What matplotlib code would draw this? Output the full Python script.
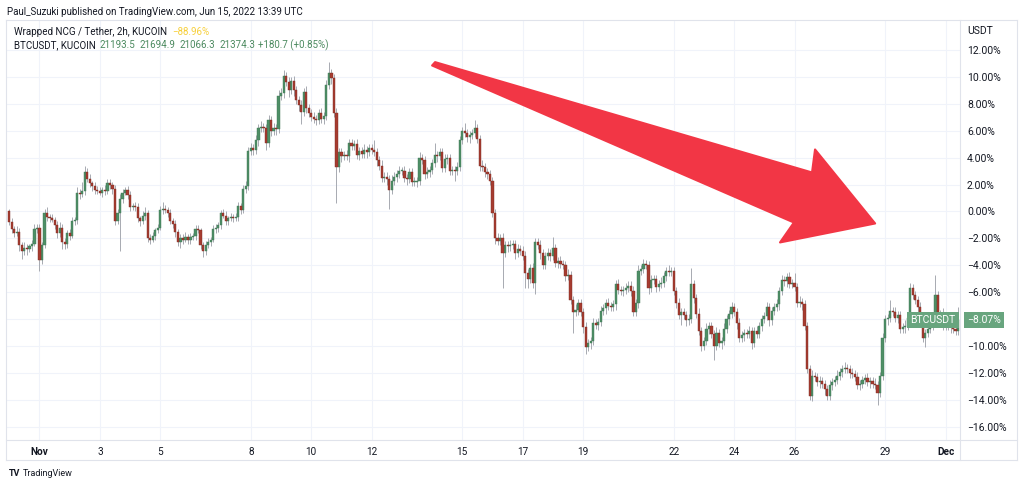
import numpy as np
import pandas as pd
import matplotlib
matplotlib.use("Agg")
import matplotlib.pyplot as plt
import matplotlib.dates as mdates
import matplotlib.transforms as mtransforms
from matplotlib.patches import Polygon
from matplotlib.lines import Line2D

plt.rcParams['font.family'] = ['Roboto', 'DejaVu Sans']

# BTCUSDT 2h candles, % change from the first bar
times = pd.date_range("2021-10-31 00:00", periods=378, freq="2h")
first_open = 0.0
close = [
    -0.8, -1.3, -1.6, -1.5, -2.5, -2.9, -2.7, -2.8, -2.6, -2.4, -1.3, -1.2,
    -3.6, -2.5, -0.1, -0.4, -0.5, -0.6, -1.0, -1.6, -1.2, -2.3, -2.4, -1.6,
    -1.8, -0.7, -0.6, 1.4, 1.3, 1.5, 2.9, 2.4, 2.1, 1.9, 1.6, 1.5,
    1.4, 1.6, 1.5, 2.1, 2.0, 1.7, -0.7, -0.1, 0.9, 1.4, 1.6, 1.2,
    0.3, 0.4, 0.3, -0.5, -0.7, -0.3, -0.1, -2.0, -2.1, -1.8, -1.4, -1.2,
    0.1, 0.2, 0.1, -0.1, -0.7, -0.9, -1.5, -2.3, -2.0, -2.1, -1.9, -2.1,
    -1.9, -1.8, -1.3, -1.4, -2.5, -2.9, -2.5, -2.3, -2.1, -1.3, -1.2, -1.0,
    -0.1, -0.3, -0.7, -0.5, -0.4, -0.5, -0.4, 0.4, 0.1, 1.7, 1.9, 4.5,
    4.7, 4.6, 5.3, 6.2, 6.3, 6.2, 5.1, 6.8, 6.0, 6.2, 6.1, 8.6,
    8.8, 10.1, 9.6, 9.0, 9.7, 9.0, 8.3, 7.9, 7.4, 8.9, 7.7, 7.3,
    7.0, 6.9, 6.8, 7.3, 6.9, 7.1, 9.4, 10.3, 9.9, 7.3, 3.3, 4.4,
    4.1, 4.2, 4.1, 5.1, 4.9, 5.0, 4.2, 4.5, 4.3, 4.6, 4.4, 4.7,
    4.6, 4.4, 3.8, 3.4, 2.5, 2.6, 2.4, 1.6, 2.3, 2.6, 2.8, 3.0,
    3.0, 2.5, 2.4, 2.9, 2.2, 2.2, 2.3, 4.0, 3.8, 2.8, 2.9, 3.1,
    3.6, 4.2, 4.1, 4.4, 3.2, 3.9, 4.0, 3.0, 3.1, 3.0, 3.3, 5.3,
    6.0, 5.8, 5.5, 5.7, 5.8, 6.2, 5.4, 3.4, 3.3, 2.9, 2.8, 2.3,
    -0.1, -2.0, -2.2, -2.0, -3.1, -2.5, -2.6, -2.5, -2.4, -3.1, -2.8, -2.9,
    -3.3, -4.6, -5.0, -4.2, -5.3, -2.3, -2.5, -3.1, -4.0, -3.3, -3.1, -3.3,
    -2.7, -3.8, -3.7, -3.9, -4.0, -4.8, -4.7, -6.6, -7.5, -7.3, -6.8, -7.5,
    -8.6, -10.1, -9.8, -9.6, -8.3, -8.4, -8.2, -7.4, -7.2, -6.8, -7.0, -7.1,
    -6.9, -5.4, -5.8, -5.9, -5.8, -5.7, -5.5, -5.9, -7.5, -6.8, -4.4, -4.3,
    -3.9, -4.0, -5.7, -5.1, -5.0, -5.6, -5.4, -5.3, -4.8, -4.4, -4.5, -4.4,
    -5.9, -6.8, -7.7, -7.5, -7.7, -8.1, -8.0, -5.4, -6.4, -7.6, -8.9, -10.0,
    -9.6, -8.7, -8.5, -9.1, -10.0, -9.0, -9.8, -9.6, -8.7, -8.0, -7.6, -7.1,
    -7.5, -8.3, -9.4, -9.2, -9.0, -9.1, -8.9, -9.8, -8.9, -9.1, -8.5, -8.0,
    -7.8, -7.1, -8.1, -7.4, -7.1, -6.9, -5.9, -5.1, -5.2, -4.9, -5.4, -5.3,
    -5.6, -6.8, -6.7, -6.9, -8.5, -11.7, -13.7, -12.2, -12.3, -12.7, -12.6, -12.8,
    -13.2, -13.7, -12.9, -12.7, -12.5, -12.2, -11.9, -11.7, -11.6, -11.7, -12.0, -12.1,
    -12.3, -12.9, -12.8, -12.5, -12.4, -12.7, -12.6, -12.8, -12.9, -13.5, -12.2, -9.4,
    -8.0, -7.9, -7.4, -7.5, -7.9, -7.7, -8.7, -8.6, -8.5, -7.9, -5.7, -6.2,
    -6.6, -7.1, -7.8, -9.4, -9.0, -8.7, -8.4, -8.2, -6.2, -7.6, -7.6, -8.5,
    -8.2, -8.5, -8.6, -8.7, -8.85, -8.07,
]
# wick lengths above / below the body, in %
wick_up = [
    0.2, 0.3, 0.2, 0.4, 0.3, 0.2, 0.4, 0.3, 0.2, 0.3, 0.4, 0.3,
    0.3, 0.2, 0.3, 0.4, 0.2, 0.3, 0.2, 0.3, 0.4, 0.3, 0.3, 0.2,
    0.3, 0.3, 0.2, 0.4, 0.3, 0.7, 0.5, 0.3, 0.4, 0.2, 0.3, 0.3,
    0.3, 0.2, 0.4, 0.3, 0.3, 0.2, 0.3, 0.3, 0.4, 0.3, 0.2, 0.3,
    0.3, 0.2, 0.3, 0.3, 0.2, 0.3, 0.4, 0.2, 0.3, 0.3, 0.2, 0.3,
    0.3, 0.5, 0.3, 0.2, 0.3, 0.2, 0.3, 0.2, 0.3, 0.3, 0.4, 0.2,
    0.3, 0.2, 0.3, 0.3, 0.2, 0.2, 0.3, 0.3, 0.2, 0.3, 0.3, 0.2,
    0.2, 0.3, 0.3, 0.2, 0.3, 0.2, 0.3, 0.3, 0.2, 0.3, 0.4, 0.3,
    0.4, 0.3, 0.4, 0.3, 0.4, 0.3, 0.3, 0.4, 0.3, 0.4, 0.3, 0.4,
    0.4, 0.4, 0.3, 0.4, 0.3, 0.4, 0.3, 0.3, 0.4, 0.3, 0.4, 0.3,
    0.3, 0.4, 0.3, 0.3, 0.4, 0.3, 0.4, 0.8, 0.3, 0.3, 0.4, 0.3,
    0.3, 0.3, 0.4, 0.3, 0.3, 0.3, 0.4, 0.3, 0.3, 0.4, 0.3, 0.3,
    0.3, 0.7, 0.3, 0.3, 0.4, 0.3, 0.3, 0.3, 0.4, 0.3, 0.3, 0.4,
    0.3, 0.4, 0.3, 0.3, 0.3, 0.4, 0.3, 0.4, 0.3, 0.3, 0.4, 0.3,
    0.3, 0.9, 0.3, 0.3, 0.3, 0.4, 0.3, 0.3, 0.3, 0.3, 0.4, 0.3,
    0.3, 0.6, 0.3, 0.3, 0.3, 0.6, 0.3, 0.3, 0.4, 0.3, 0.3, 0.3,
    0.3, 0.3, 0.4, 0.3, 0.4, 0.3, 0.3, 0.4, 0.3, 0.3, 0.4, 0.3,
    0.3, 0.4, 0.3, 0.3, 0.4, 0.3, 0.3, 0.4, 0.3, 0.3, 0.4, 0.3,
    0.8, 0.3, 0.3, 0.4, 0.3, 0.3, 0.4, 0.3, 0.3, 0.4, 0.3, 0.3,
    0.3, 0.4, 0.3, 0.3, 0.4, 0.3, 0.3, 0.4, 0.3, 0.3, 0.4, 0.3,
    0.3, 0.3, 0.4, 0.3, 0.3, 0.4, 0.3, 0.3, 0.4, 0.3, 0.4, 0.3,
    0.4, 0.3, 0.3, 0.4, 0.3, 0.3, 0.3, 0.4, 0.3, 0.3, 0.4, 0.3,
    0.3, 0.3, 0.4, 0.3, 0.3, 0.3, 0.4, 1.2, 0.3, 0.3, 0.4, 0.3,
    0.3, 0.4, 0.3, 0.3, 0.3, 0.4, 0.3, 0.3, 0.4, 0.3, 0.3, 0.4,
    0.3, 0.3, 0.4, 0.3, 0.3, 0.3, 0.4, 0.3, 0.3, 0.4, 0.3, 0.3,
    0.3, 0.4, 0.3, 0.3, 0.3, 0.4, 0.3, 0.4, 0.3, 0.3, 0.4, 0.3,
    0.7, 0.3, 0.4, 0.3, 0.3, 0.3, 0.3, 0.4, 0.3, 0.3, 0.4, 0.3,
    0.3, 0.3, 0.4, 0.3, 0.3, 0.4, 0.3, 0.3, 0.4, 0.3, 0.3, 0.4,
    0.3, 0.4, 0.3, 0.3, 0.3, 0.4, 0.3, 0.3, 0.4, 0.3, 0.3, 0.4,
    0.3, 0.3, 0.8, 0.3, 0.4, 0.3, 0.3, 0.3, 0.4, 0.3, 0.4, 0.3,
    0.3, 0.3, 0.4, 0.3, 0.3, 0.3, 0.4, 0.3, 1.5, 0.3, 0.3, 0.4,
    0.3, 0.4, 0.3, 0.3, 0.3, 1.0,
]
wick_dn = [
    0.2, 0.3, 0.3, 0.2, 0.4, 0.6, 0.3, 0.4, 0.2, 0.3, 0.2, 0.3,
    0.8, 0.3, 0.2, 0.3, 0.3, 0.2, 0.3, 0.4, 0.3, 0.5, 0.4, 0.3,
    0.3, 0.2, 0.3, 0.3, 0.4, 0.2, 0.3, 0.2, 0.3, 0.4, 0.3, 0.2,
    0.2, 0.3, 0.3, 0.2, 0.3, 0.4, 0.3, 0.2, 2.8, 0.3, 0.2, 0.3,
    0.3, 0.2, 0.3, 0.3, 0.4, 0.2, 0.3, 0.3, 0.3, 0.2, 0.3, 0.2,
    0.2, 0.3, 0.2, 0.3, 0.2, 0.3, 0.4, 0.3, 0.4, 0.3, 0.2, 0.3,
    0.3, 0.2, 0.3, 0.2, 0.3, 0.5, 0.3, 0.2, 0.3, 0.2, 0.3, 0.3,
    0.3, 0.2, 0.3, 0.3, 0.2, 0.3, 0.2, 0.3, 0.3, 0.2, 0.3, 0.3,
    0.3, 0.4, 0.3, 0.4, 0.3, 0.3, 0.5, 0.3, 0.4, 0.3, 0.4, 0.3,
    0.3, 0.4, 0.3, 0.5, 0.3, 0.4, 0.3, 0.4, 0.9, 0.3, 0.4, 0.3,
    0.3, 0.3, 0.4, 0.3, 0.3, 0.4, 0.3, 0.3, 0.4, 0.3, 2.7, 0.4,
    0.4, 0.3, 0.3, 0.4, 0.3, 0.3, 0.3, 0.4, 0.3, 0.3, 0.4, 0.3,
    0.3, 0.3, 0.4, 0.3, 0.3, 0.3, 0.4, 1.4, 0.3, 0.3, 0.4, 0.3,
    0.3, 0.3, 0.4, 0.3, 0.3, 0.3, 0.4, 0.3, 0.3, 0.4, 0.3, 0.3,
    0.3, 0.3, 0.4, 0.3, 0.3, 0.3, 0.4, 0.3, 0.3, 0.7, 0.3, 0.3,
    0.3, 0.3, 0.3, 0.4, 0.3, 0.3, 0.3, 0.4, 0.3, 0.3, 0.4, 0.3,
    0.3, 0.4, 0.3, 0.3, 2.6, 0.3, 0.4, 0.3, 0.3, 0.4, 0.3, 0.3,
    0.3, 1.1, 0.7, 0.3, 0.4, 0.8, 0.3, 0.4, 0.3, 0.3, 0.3, 0.4,
    0.3, 0.3, 0.4, 0.3, 0.3, 0.4, 0.3, 0.3, 1.5, 0.3, 0.4, 0.3,
    0.4, 0.5, 0.3, 0.4, 0.3, 0.3, 0.4, 0.3, 0.3, 0.4, 0.3, 0.3,
    0.3, 0.4, 0.3, 0.3, 0.4, 0.3, 0.3, 0.4, 0.3, 0.3, 0.4, 0.3,
    0.3, 0.3, 0.4, 0.3, 0.3, 0.4, 0.3, 0.3, 0.3, 0.4, 0.3, 0.3,
    0.3, 0.4, 0.3, 0.7, 0.3, 0.4, 0.3, 0.3, 0.4, 0.3, 0.3, 0.4,
    0.3, 0.3, 0.4, 0.3, 1.0, 0.3, 0.3, 0.4, 0.3, 0.3, 0.4, 0.3,
    0.3, 0.4, 0.3, 0.3, 0.4, 0.3, 0.3, 0.4, 0.3, 0.3, 0.3, 0.4,
    0.3, 0.3, 0.4, 0.3, 0.3, 0.3, 0.4, 0.3, 0.3, 0.4, 0.3, 0.3,
    0.3, 0.3, 0.3, 0.4, 0.3, 0.3, 0.3, 0.4, 0.3, 0.3, 0.4, 0.3,
    0.4, 0.3, 0.3, 0.4, 0.3, 0.3, 0.3, 0.4, 0.3, 0.3, 0.4, 0.3,
    0.3, 0.3, 0.4, 0.3, 0.3, 0.3, 0.4, 0.3, 0.3, 0.9, 0.3, 0.3,
    0.3, 0.4, 0.3, 0.3, 0.3, 0.4, 0.3, 0.3, 0.4, 0.3, 0.3, 0.3,
    0.3, 0.4, 0.3, 0.3, 0.7, 0.3, 0.3, 0.4, 0.3, 0.3, 0.4, 0.3,
    0.3, 0.3, 0.4, 0.3, 0.3, 0.3,
]

tick_days = [1, 3, 5, 8, 10, 12, 15, 17, 19, 22, 24, 26, 29]
y_ticks = list(range(-16, 13, 2))

# arrow drawn on the chart: (days from Nov 1, %)
arrow_pts = [(13.0, 10.85), (13.1, 11.1), (25.58, 2.9), (25.68, 4.61),
             (27.67, -0.89), (24.52, -2.30), (24.98, -0.82)]

GREEN = '#4e8f66'
RED = '#a63c30'
GRID = '#f0f3fa'
BORDER = '#e0e3eb'
TXT = '#131722'

opens = [first_open] + close[:-1]
o = np.array(opens)
c = np.array(close)
hi = np.maximum(o, c) + np.array(wick_up)
lo = np.minimum(o, c) - np.array(wick_dn)
up = c >= o

W, H = 1024, 487
fig = plt.figure(figsize=(W / 100, H / 100), dpi=100)
fig.patch.set_facecolor('white')
ax = fig.add_axes([6 / W, 1 - 440 / H, 954 / W, 420 / H])

nov1 = pd.Timestamp("2021-11-01")
x = mdates.date2num(times)
ax.vlines(x, lo, hi, color='#a7aab1', lw=0.7, zorder=2)
body_bot = np.minimum(o, c)
body_h = np.maximum(np.abs(c - o), 0.06)
ax.bar(x[up], body_h[up], bottom=body_bot[up], width=0.072,
       color=GREEN, edgecolor='#3f7654', lw=0.3, zorder=3)
ax.bar(x[~up], body_h[~up], bottom=body_bot[~up], width=0.072,
       color=RED, edgecolor='#7c2b22', lw=0.3, zorder=3)

x0 = mdates.date2num(nov1)
ax.set_xlim(x0 - 1.109, x0 + 30.48)
ax.set_ylim(-16.98, 14.23)

xt = [mdates.date2num(nov1 + pd.Timedelta(days=d - 1)) for d in tick_days] + \
     [mdates.date2num(pd.Timestamp("2021-12-01"))]
xl = ['Nov'] + [str(d) for d in tick_days[1:]] + ['Dec']
ax.set_xticks(xt)
ax.set_xticklabels(xl)
for lab in ax.get_xticklabels():
    if lab.get_text() in ('Nov', 'Dec'):
        lab.set_fontweight('bold')
ax.set_yticks(y_ticks)
ax.set_yticklabels([('\u2212' if v < 0 else '') + '%.2f%%' % abs(v) for v in y_ticks])
ax.yaxis.tick_right()
ax.tick_params(axis='y', length=0, pad=5, labelsize=7.5, labelcolor=TXT)
ax.tick_params(axis='x', length=0, pad=5, labelsize=7.2, labelcolor=TXT)
ax.grid(True, color=GRID, lw=0.8, zorder=0)
ax.set_axisbelow(True)
for s in ax.spines.values():
    s.set_visible(False)

# arrow
poly = Polygon([(x0 + d, v) for d, v in arrow_pts], closed=True,
               facecolor='#f23645', edgecolor='#f23645', lw=1.5,
               joinstyle='round', zorder=5)
ax.add_patch(poly)

# last price labels
lbl = '#68a57e'
tr = mtransforms.blended_transform_factory(ax.transAxes, ax.transData)
ax.text(0.9955, close[-1], 'BTCUSDT', transform=tr, ha='right', va='center',
        fontsize=7.5, color='white', zorder=6,
        bbox=dict(boxstyle='square,pad=0.3', fc=lbl, ec='none'))
ax.text(1.0075, close[-1], '\u2212%.2f%%' % abs(close[-1]), transform=tr,
        ha='left', va='center', fontsize=7.5, color='white', zorder=6, clip_on=False,
        bbox=dict(boxstyle='square,pad=0.3', fc=lbl, ec='none'))


def px(xp, yp):
    return xp / W, 1 - yp / H


# frame
for (a, b) in [((6, 20), (1017, 20)), ((6, 460), (1017, 460)),
               ((6, 20), (6, 460)), ((1017, 20), (1017, 460)),
               ((960, 20), (960, 460)), ((6, 440), (1017, 440))]:
    fig.add_artist(Line2D([a[0] / W, b[0] / W], [1 - a[1] / H, 1 - b[1] / H],
                          color=BORDER, lw=0.8))

fig.text(*px(967, 31), 'USDT', fontsize=7.5, color=TXT, va='center')
fig.text(*px(7, 12), 'Paul_Suzuki published on TradingView.com, Jun 15, 2022 13:39 UTC',
         fontsize=7, color=TXT, va='center')
fig.text(*px(14, 32), 'Wrapped NCG / Tether, 2h, KUCOIN', fontsize=7, color=TXT, va='center')
fig.text(*px(172, 32), '\u221288.96%', fontsize=7, color='#f7cf3a', va='center')
fig.text(*px(14, 45), 'BTCUSDT, KUCOIN', fontsize=7, color=TXT, va='center')
vals = ['21193.5', '21694.9', '21066.3', '21374.3', '+180.7 (+0.85%)']
vx = [100, 140, 180, 219, 258]
for xv, t in zip(vx, vals):
    fig.text(*px(xv, 45), t, fontsize=7, color='#4c8a5f', va='center')

fig.text(*px(9, 474), 'TV', fontsize=6.5, color=TXT, fontweight='bold', va='center')
fig.text(*px(23, 474), 'TradingView', fontsize=6.5, color=TXT, va='center')

fig.savefig('out.png', dpi=100, facecolor='white')
